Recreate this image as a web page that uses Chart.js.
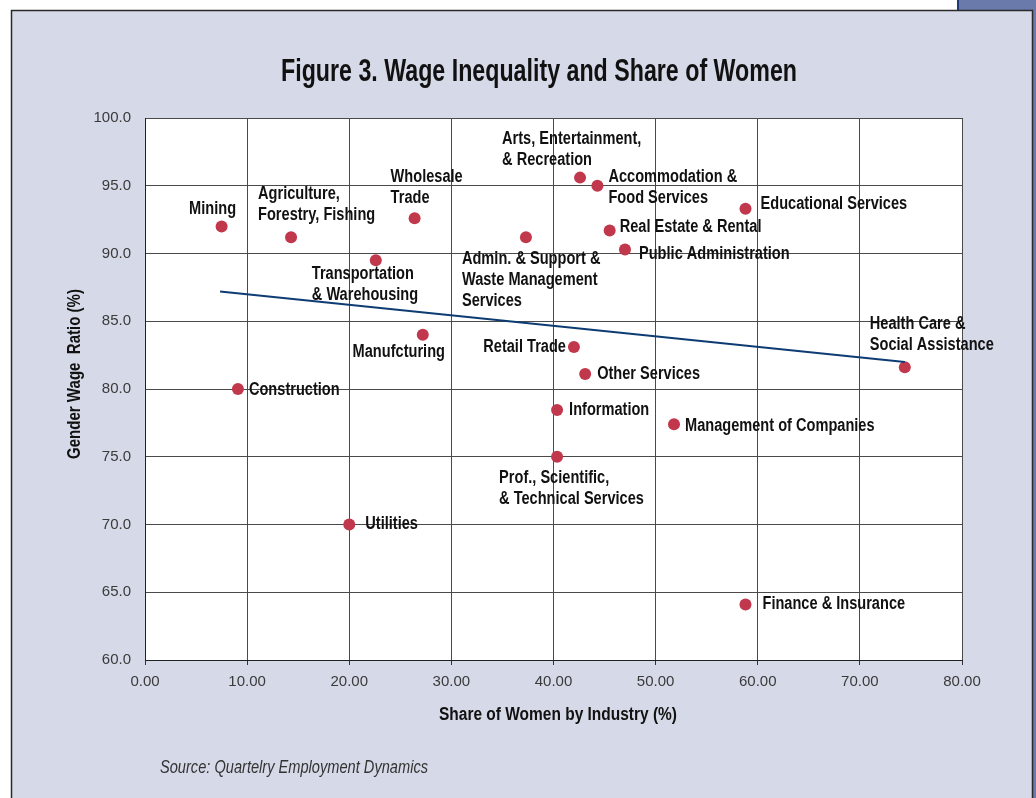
<!DOCTYPE html>
<html><head><meta charset="utf-8">
<script src="https://cdn.jsdelivr.net/npm/chart.js@4.4.1/dist/chart.umd.min.js"></script>
<style>html,body{margin:0;padding:0;background:#fff;overflow:hidden;}</style>
</head><body>
<canvas id="c" width="1036" height="798"></canvas>
<script>
// ---- data ----
const industries = [
  "Mining", "Agriculture,\nForestry, Fishing", "Wholesale\nTrade", "Transportation\n& Warehousing",
  "Arts, Entertainment,\n& Recreation", "Accommodation &\nFood Services", "Educational Services",
  "Real Estate & Rental", "Public Administration", "Admin. & Support &\nWaste Management\nServices",
  "Health Care &\nSocial Assistance", "Manufcturing", "Retail Trade", "Other Services", "Construction",
  "Information", "Management of Companies", "Prof., Scientific,\n& Technical Services", "Utilities",
  "Finance & Insurance"
];
const shareWomen = [7.5, 14.3, 26.4, 22.6, 42.6, 44.3, 58.8, 45.5, 47.0, 37.3,
                    74.4, 27.2, 42.0, 43.1, 9.1, 40.35, 51.8, 40.35, 20.0, 58.8];
const wageRatio  = [92.0, 91.2, 92.6, 89.5, 95.6, 95.0, 93.3, 91.7, 90.3, 91.2,
                    81.6, 84.0, 83.1, 81.1, 80.0, 78.45, 77.4, 75.0, 70.0, 64.1];
const trendShare = [7.35, 74.4];
const trendRatio = [87.2, 82.0];
const xTicks = [0, 10, 20, 30, 40, 50, 60, 70, 80];
const yTicks = [60, 65, 70, 75, 80, 85, 90, 95, 100];

const titleText = "Figure 3. Wage Inequality and Share of Women";
const xTitle = "Share of Women by Industry (%)";
const yTitle = "Gender Wage  Ratio (%)";
const sourceText = "Source: Quartelry Employment Dynamics";

// label placement relative to each marker (pixels), separate from data
const labelLayout = [
  {dx:-9, dy:-17, a:"center"}, {dx:-33, dy:-43, a:"left"}, {dx:-24, dy:-41, a:"left"},
  {dx:-64, dy:14, a:"left"}, {dx:-78, dy:-39, a:"left"}, {dx:11, dy:-9, a:"left"},
  {dx:15, dy:-5, a:"left"}, {dx:10, dy:-3, a:"left"}, {dx:14, dy:5, a:"left"},
  {dx:-64, dy:22, a:"left"}, {dx:-35, dy:-43, a:"left"}, {dx:-24, dy:17, a:"center"},
  {dx:-8, dy:0, a:"right"}, {dx:12, dy:0, a:"left"}, {dx:11, dy:1, a:"left"},
  {dx:12, dy:0, a:"left"}, {dx:11, dy:2, a:"left"}, {dx:-58, dy:21, a:"left"},
  {dx:16, dy:0, a:"left"}, {dx:17, dy:0, a:"left"}
];

const FAM = "'Liberation Sans', Arial, sans-serif";
const CONDENSE = 0.81;   // horizontal squeeze to imitate the condensed face
Chart.defaults.font.family = FAM;

function condensedText(ctx, text, x, y, align) {
  ctx.save();
  ctx.translate(x, y);
  ctx.scale(CONDENSE, 1);
  ctx.textAlign = align;
  ctx.fillText(text, 0, 0);
  ctx.restore();
}

const framePlugin = {
  id: 'frame',
  beforeDraw(chart) {
    const ctx = chart.ctx, a = chart.chartArea;
    ctx.save();
    ctx.fillStyle = '#ffffff'; ctx.fillRect(0, 0, 1036, 798);
    ctx.fillStyle = '#6A7AAB'; ctx.fillRect(958, 0, 78, 11); ctx.fillRect(1033, 10, 3, 788);
    ctx.fillStyle = '#1d3a78'; ctx.fillRect(957, 0, 2, 11);
    ctx.fillStyle = '#D6DAE8'; ctx.fillRect(11, 10, 1021, 788);
    ctx.strokeStyle = '#2a2a2a'; ctx.lineWidth = 1.5;
    ctx.beginPath(); ctx.moveTo(11.5, 798); ctx.lineTo(11.5, 10.5); ctx.lineTo(1032.5, 10.5); ctx.lineTo(1032.5, 798); ctx.stroke();
    ctx.fillStyle = '#ffffff'; ctx.fillRect(a.left, a.top, a.right - a.left, a.bottom - a.top);
    ctx.restore();
  },
  afterDraw(chart) {
    const ctx = chart.ctx;
    ctx.save();
    ctx.fillStyle = '#111';
    ctx.textBaseline = 'middle';
    ctx.textAlign = 'center';
    ctx.font = "bold 31px " + FAM;
    ctx.fillText(titleText, 539, 72, 516);
    ctx.font = "bold 18px " + FAM;
    ctx.fillText(xTitle, 558, 715, 238);
    ctx.save();
    ctx.translate(75, 374); ctx.rotate(-Math.PI / 2);
    ctx.fillText(yTitle, 0, 0, 170);
    ctx.restore();
    ctx.textAlign = 'left';
    ctx.fillStyle = '#333';
    ctx.font = "italic 18px " + FAM;
    ctx.fillText(sourceText, 160, 768, 268);
    ctx.restore();
  }
};

const labelPlugin = {
  id: 'pointLabels',
  afterDatasetsDraw(chart) {
    const ctx = chart.ctx;
    const meta = chart.getDatasetMeta(1);
    ctx.save();
    ctx.font = "bold 18px " + FAM;
    ctx.fillStyle = '#111';
    ctx.textBaseline = 'middle';
    meta.data.forEach((pt, i) => {
      const L = labelLayout[i];
      industries[i].split("\n").forEach((line, k) => {
        condensedText(ctx, line, pt.x + L.dx, pt.y + L.dy + k * 21, L.a);
      });
    });
    ctx.restore();
  }
};

new Chart(document.getElementById('c'), {
  data: {
    datasets: [
      {
        type: 'line',
        data: trendShare.map((x, i) => ({x, y: trendRatio[i]})),
        borderColor: '#0d3c72', borderWidth: 2, pointRadius: 0, fill: false, tension: 0
      },
      {
        type: 'scatter',
        data: shareWomen.map((x, i) => ({x, y: wageRatio[i]})),
        backgroundColor: '#C1374B', borderColor: '#C1374B', borderWidth: 0, pointRadius: 6
      }
    ]
  },
  options: {
    responsive: false, animation: false, devicePixelRatio: 1,
    layout: { padding: { left: 0, top: 118, right: 74, bottom: 0 }, autoPadding: false },
    plugins: { legend: { display: false }, tooltip: { enabled: false }, title: { display: false } },
    scales: {
      x: {
        type: 'linear', min: 0, max: 80,
        afterBuildTicks: s => { s.ticks = xTicks.map(v => ({value: v})); },
        afterFit: s => { s.height = 138; },
        ticks: { callback: v => Number(v).toFixed(2), color: '#3a3a3a', font: { size: 15 }, padding: 8, maxRotation: 0 },
        grid: { color: '#4a4a4a', lineWidth: 1, drawTicks: true, tickLength: 5, tickColor: '#333' },
        border: { color: '#222', width: 1 }
      },
      y: {
        type: 'linear', min: 60, max: 100,
        afterBuildTicks: s => { s.ticks = yTicks.map(v => ({value: v})); },
        afterFit: s => { s.width = 145; },
        ticks: { callback: v => Number(v).toFixed(1), color: '#3a3a3a', font: { size: 15 }, padding: 14 },
        grid: { color: '#4a4a4a', lineWidth: 1, drawTicks: false },
        border: { color: '#222', width: 1 }
      }
    }
  },
  plugins: [framePlugin, labelPlugin]
});
</script>
</body></html>
